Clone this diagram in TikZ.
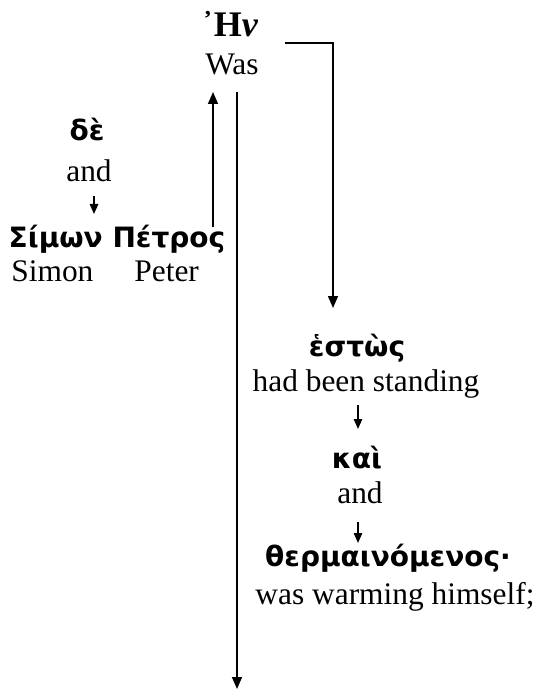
\documentclass[tikz,border=0pt]{standalone}
\usepackage{fontspec}
\setmainfont{Liberation Serif}
\newfontfamily\grk{DejaVu Sans}
\usetikzlibrary{arrows.meta}
\tikzset{
  eng/.style={inner sep=0pt, anchor=base, font=\fontsize{15.7}{18}\selectfont},
  gr/.style={inner sep=0pt, anchor=base, font=\grk\bfseries\fontsize{14}{16}\selectfont},
  arr/.style={line width=0.8pt, -{Triangle[length=6pt,width=5pt]}},
  tiny/.style={line width=0.8pt, -{Triangle[length=5pt,width=4.2pt]}}
}
\begin{document}
\begin{tikzpicture}[x=0.5pt,y=-0.5pt]
\useasboundingbox (0,0) rectangle (537,689);
\fill[white] (0,0) rectangle (537,689);

% main verb
\node[inner sep=0pt, anchor=base, font=\bfseries\fontsize{18}{21}\selectfont] (en) at (230,37) {᾿Η\textit{ν}};
\node[eng] (was) at (232,75) {Was};

% subject branch
\node[gr]  (de)    at (87,141)  {δὲ};
\node[eng] (and1)  at (89,182)  {and};
\node[gr]  (simon) at (117,248) {Σίμων Πέτρος};
\node[eng, anchor=base west] (simonE) at (11,282) {Simon};
\node[eng, anchor=base west] (peterE) at (134,282) {Peter};

% participles
\node[gr]  (estos) at (357,356) {ἑστὼς};
\node[eng] (stand) at (366,391) {had been standing};
\node[gr]  (kai)   at (357,468) {καὶ};
\node[eng] (and2)  at (360,503) {and};
\node[gr]  (therm) at (388,566) {θερμαινόμενος·};
\node[eng] (warm)  at (395,604) {was warming himself;};

% connector end points
\coordinate (brA) at (285,43);
\coordinate (brB) at (333,43);
\coordinate (brC) at (333,308);
\coordinate (upA) at (213,227);
\coordinate (upB) at (213,92);
\coordinate (lnA) at (237,92);
\coordinate (lnB) at (237,689);
\coordinate (a1) at (94,196);
\coordinate (a2) at (94,214);
\coordinate (b1) at (358,405);
\coordinate (b2) at (358,429);
\coordinate (c1) at (358,522);
\coordinate (c2) at (358,543);

% connectors
\draw[arr] (brA) -- (brB) -- (brC);
\draw[arr] (upA) -- (upB);
\draw[arr] (lnA) -- (lnB);
\draw[tiny] (a1) -- (a2);
\draw[tiny] (b1) -- (b2);
\draw[tiny] (c1) -- (c2);
\end{tikzpicture}
\end{document}
